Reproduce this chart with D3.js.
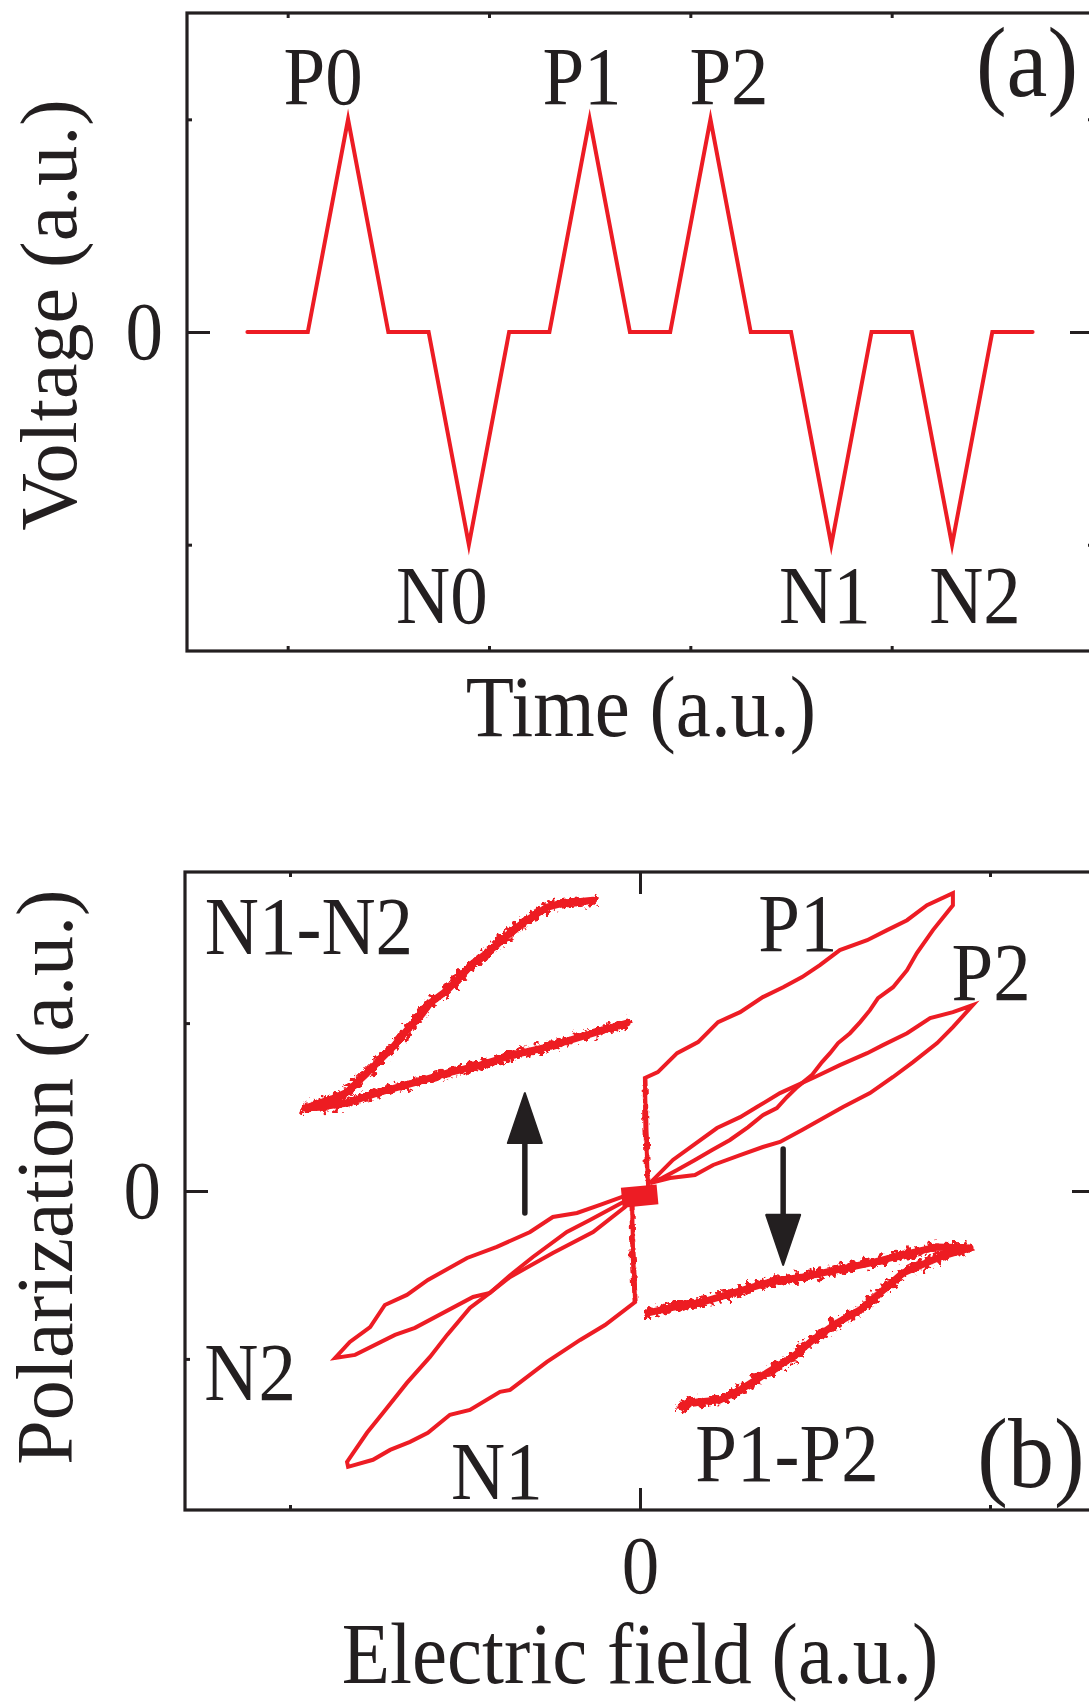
<!DOCTYPE html>
<html>
<head>
<meta charset="utf-8">
<script src="https://cdn.jsdelivr.net/npm/d3@7"></script>
<style>
html, body { margin: 0; padding: 0; background: #fff; overflow: hidden; }
svg { display: block; }
text { font-family: "Liberation Serif", "Times New Roman", Times, serif; fill: #231f20; }
</style>
</head>
<body>
<svg id="fig" width="1089" height="1703"></svg>
<script>
// ---- panel (a): voltage pulse train (time, voltage in a.u.)
var pulseTime    = [0, 1.5, 2.5, 3.5, 4.5, 5.5, 6.5, 7.5, 8.5, 9.5, 10.5, 11.5, 12.5, 13.5, 14.5, 15.5, 16.5, 17.5, 18.5, 19.5];
var pulseVoltage = [0, 0,   1,   0,   0,  -1,   0,   0,   1,   0,   0,    1,    0,    0,   -1,    0,    0,   -1,    0,    0];
var pulseLabels  = ["P0", "N0", "P1", "P2", "N1", "N2"];
var pulseLabelT  = [1.88, 4.83, 8.31, 11.96, 14.34, 18.07];
var pulseLabelV  = [1.07, -1.37, 1.07, 1.07, -1.37, -1.37];

// ---- panel (b): P-E loops (field, polarization in a.u.)
var loopP1 = [[0.023,0.03],[0.017,0.363],[0.014,0.673],[0.051,0.708],[0.106,0.821],[0.166,0.887],[0.223,1.006],
  [0.286,1.065],[0.351,1.155],[0.409,1.214],[0.463,1.274],[0.514,1.345],[0.571,1.435],[0.649,1.494],[0.706,1.554],
  [0.763,1.613],[0.82,1.702],[0.894,1.774],[0.894,1.702],[0.837,1.554],[0.791,1.417],[0.763,1.315],[0.723,1.214],
  [0.68,1.149],[0.657,1.077],[0.629,1.006],[0.6,0.94],[0.566,0.881],[0.543,0.821],[0.52,0.768],[0.491,0.69],
  [0.449,0.619],[0.42,0.56],[0.391,0.494],[0.351,0.452],[0.309,0.381],[0.257,0.304],[0.206,0.244],[0.157,0.185],
  [0.106,0.125],[0.063,0.077],[0.029,0.048]];
var loopP2 = [[0.029,0.048],[0.094,0.185],[0.22,0.375],[0.286,0.44],[0.334,0.5],[0.4,0.583],[0.5,0.679],[0.571,0.75],
  [0.649,0.821],[0.694,0.869],[0.763,0.94],[0.829,1.03],[0.894,1.065],[0.951,1.107],[0.894,0.976],[0.849,0.881],
  [0.78,0.768],[0.723,0.679],[0.657,0.583],[0.58,0.5],[0.463,0.363],[0.4,0.292],[0.351,0.262],[0.286,0.214],
  [0.209,0.155],[0.157,0.095],[0.086,0.077],[0.029,0.048]];
var loopN1 = [[-0.023,-0.024],[-0.02,-0.351],[-0.014,-0.661],[-0.1,-0.798],[-0.171,-0.887],[-0.266,-1.018],[-0.371,-1.185],
  [-0.4,-1.196],[-0.486,-1.304],[-0.543,-1.333],[-0.606,-1.44],[-0.657,-1.494],[-0.714,-1.542],[-0.763,-1.601],
  [-0.834,-1.643],[-0.837,-1.613],[-0.78,-1.44],[-0.734,-1.321],[-0.666,-1.143],[-0.6,-0.988],[-0.551,-0.857],
  [-0.486,-0.696],[-0.429,-0.607],[-0.363,-0.488],[-0.306,-0.393],[-0.209,-0.244],[-0.143,-0.173],[-0.037,-0.054]];
var loopN2 = [[-0.037,-0.024],[-0.114,-0.083],[-0.18,-0.131],[-0.249,-0.155],[-0.314,-0.244],[-0.409,-0.333],[-0.494,-0.399],
  [-0.606,-0.53],[-0.666,-0.619],[-0.729,-0.679],[-0.771,-0.81],[-0.829,-0.899],[-0.871,-0.994],[-0.814,-0.976],
  [-0.7,-0.857],[-0.643,-0.815],[-0.477,-0.631],[-0.429,-0.607],[-0.371,-0.512],[-0.249,-0.369],[-0.134,-0.244],
  [-0.043,-0.095],[-0.014,-0.024]];
// switching jumps near E = 0 (noisy traces)
var jumpP1 = [[0.023,0.03],[0.02,0.2],[0.017,0.363],[0.016,0.52],[0.014,0.673]];
var jumpN1 = [[-0.023,-0.024],[-0.022,-0.2],[-0.02,-0.351],[-0.017,-0.5],[-0.014,-0.661]];
var diffN1N2 = [[-0.037,1.0],[-0.077,0.976],[-0.171,0.917],[-0.266,0.857],[-0.363,0.81],[-0.457,0.75],[-0.551,0.702],
  [-0.649,0.643],[-0.743,0.589],[-0.837,0.524],[-0.914,0.5],[-0.957,0.494],[-0.886,0.542],[-0.837,0.589],[-0.78,0.702],
  [-0.743,0.78],[-0.706,0.857],[-0.666,0.958],[-0.629,1.036],[-0.6,1.119],[-0.551,1.196],[-0.514,1.274],[-0.477,1.357],
  [-0.437,1.417],[-0.4,1.482],[-0.363,1.554],[-0.323,1.613],[-0.266,1.69],[-0.22,1.714],[-0.134,1.732]];
var diffP1P2 = [[0.023,-0.726],[0.086,-0.696],[0.18,-0.661],[0.277,-0.601],[0.371,-0.542],[0.466,-0.512],[0.563,-0.47],
  [0.657,-0.429],[0.751,-0.381],[0.849,-0.333],[0.943,-0.339],[0.857,-0.393],[0.751,-0.488],[0.686,-0.607],[0.629,-0.708],
  [0.563,-0.786],[0.494,-0.887],[0.437,-0.988],[0.363,-1.083],[0.286,-1.185],[0.229,-1.244],[0.134,-1.262],[0.12,-1.286]];
var originCluster = [[-0.052,-0.04],[0.05,-0.02]];
var arrowField = [-0.329, 0.409];
var arrowFrom  = [-0.131, 0.25];
var arrowTo    = [0.583, -0.44];
var loopLabels = ["N1-N2", "P1", "P2", "N2", "N1", "P1-P2"];
var loopLabelE = [-0.946, 0.451, 1.003, -1.114, -0.409, 0.42];
var loopLabelP = [1.411, 1.429, 1.137, -1.244, -1.833, -1.726];

var red = "#ed1c24", ink = "#231f20", SY = 1.09;
var W = 1089, H = 1703;
var svg = d3.select("#fig");

function roughFilter(id, freq, octaves, amount) {
  var f = svg.append("defs").append("filter").attr("id", id).attr("filterUnits", "userSpaceOnUse")
    .attr("x", 0).attr("y", 0).attr("width", W).attr("height", H);
  f.append("feTurbulence").attr("type", "fractalNoise").attr("baseFrequency", freq)
    .attr("numOctaves", octaves).attr("seed", 5).attr("result", "n");
  f.append("feDisplacementMap").attr("in", "SourceGraphic").attr("in2", "n")
    .attr("scale", amount).attr("xChannelSelector", "R").attr("yChannelSelector", "G");
}
roughFilter("rough", 0.18, 3, 14);
roughFilter("rough2", 0.15, 2, 7);

// horizontal text, slightly taller than the font's normal proportions
function label(x, y, txt, size) {
  return svg.append("text").attr("transform", "translate(" + x + "," + y + ") scale(1," + SY + ")")
    .attr("text-anchor", "middle").attr("font-size", size).text(txt);
}

// ---- scales
var xa = d3.scaleLinear().domain([-1.5, 21]).range([187, 1093]);
var ya = d3.scaleLinear().domain([-1.5, 1.5]).range([651, 13]);
var xb = d3.scaleLinear().domain([-1.3, 1.3]).range([185, 1095]);
var yb = d3.scaleLinear().domain([-1.9, 1.9]).range([1510, 872]);

function frame(x, y) {
  var g = svg.append("g");
  g.append("rect").attr("x", x.range()[0]).attr("y", y.range()[1])
    .attr("width", x.range()[1] - x.range()[0]).attr("height", y.range()[0] - y.range()[1])
    .attr("fill", "none").attr("stroke", ink).attr("stroke-width", 3.2);

  return function (axis, tx, ty) {
    var a = g.append("g").attr("transform", "translate(" + tx + "," + ty + ")").call(axis);
    a.select(".domain").remove();
    a.selectAll("line").attr("stroke", ink).attr("stroke-width", 3);
    a.selectAll("text").attr("font-size", 75).attr("font-family", "Liberation Serif, Times New Roman, serif")
      .attr("fill", ink).attr("transform", "scale(1," + SY + ")");
    return a;
  };
}

// ---- panel (a)
var putA = frame(xa, ya);
putA(d3.axisBottom(xa).tickValues([1, 6, 11, 16]).tickSize(-5).tickFormat(""), 0, ya.range()[0]);
putA(d3.axisTop(xa).tickValues([1, 6, 11, 16]).tickSize(-5).tickFormat(""), 0, ya.range()[1]);
putA(d3.axisLeft(ya).tickValues([-1, 1]).tickSize(-5).tickFormat(""), xa.range()[0], 0);
putA(d3.axisRight(ya).tickValues([-1, 1]).tickSize(-5).tickFormat(""), xa.range()[1], 0);
putA(d3.axisRight(ya).tickValues([0]).tickSize(-23).tickFormat(""), xa.range()[1], 0);
putA(d3.axisLeft(ya).tickValues([0]).tickSize(-23).tickPadding(24).tickFormat(d3.format("d")), xa.range()[0], 0);

var pulse = pulseTime.map(function (t, i) { return [t, pulseVoltage[i]]; });
svg.append("path").datum(pulse)
  .attr("d", d3.line().x(function (d) { return xa(d[0]); }).y(function (d) { return ya(d[1]); }))
  .attr("fill", "none").attr("stroke", red).attr("stroke-width", 4)
  .attr("stroke-linejoin", "miter").attr("stroke-miterlimit", 10).attr("stroke-linecap", "round");

pulseLabels.forEach(function (d, i) { label(xa(pulseLabelT[i]), ya(pulseLabelV[i]), d, 75); });
label(xa(19.36), ya(1.11), "(a)", 92);
label(641, 736, "Time (a.u.)", 79);
svg.append("text").attr("transform", "translate(76,315) rotate(-90)").attr("text-anchor", "middle")
  .attr("font-size", 80).text("Voltage (a.u.)");

// ---- panel (b)
var putB = frame(xb, yb);
putB(d3.axisBottom(xb).tickValues([-1, 1]).tickSize(-5).tickFormat(""), 0, yb.range()[0]);
putB(d3.axisTop(xb).tickValues([-1, 1]).tickSize(-5).tickFormat(""), 0, yb.range()[1]);
putB(d3.axisTop(xb).tickValues([0]).tickSize(-22).tickFormat(""), 0, yb.range()[1]);
putB(d3.axisBottom(xb).tickValues([0]).tickSize(-22).tickPadding(23).tickFormat(d3.format("d")), 0, yb.range()[0]);
putB(d3.axisLeft(yb).tickValues([-1, 1]).tickSize(-5).tickFormat(""), xb.range()[0], 0);
putB(d3.axisRight(yb).tickValues([-1, 1]).tickSize(-5).tickFormat(""), xb.range()[1], 0);
putB(d3.axisRight(yb).tickValues([0]).tickSize(-23).tickFormat(""), xb.range()[1], 0);
putB(d3.axisLeft(yb).tickValues([0]).tickSize(-23).tickPadding(24).tickFormat(d3.format("d")), xb.range()[0], 0);

var lineB = d3.line().x(function (d) { return xb(d[0]); }).y(function (d) { return yb(d[1]); });

svg.selectAll("path.loop").data([loopP1, loopP2, loopN1, loopN2]).enter().append("path").attr("class", "loop")
  .attr("d", lineB).attr("fill", "none").attr("stroke", red).attr("stroke-width", 4)
  .attr("stroke-linejoin", "miter").attr("stroke-miterlimit", 6);

// noisy traces: solid core plus a displaced, ragged outline
svg.selectAll("path.jump").data([jumpP1, jumpN1]).enter().append("path").attr("class", "jump")
  .attr("d", lineB).attr("fill", "none").attr("stroke", red).attr("stroke-width", 5)
  .attr("filter", "url(#rough2)");

[diffN1N2, diffP1P2].forEach(function (d) {
  svg.append("path").datum(d).attr("d", lineB).attr("fill", "none").attr("stroke", red)
    .attr("stroke-width", 7).attr("stroke-linejoin", "round").attr("stroke-linecap", "round");
  svg.append("path").datum(d).attr("d", lineB).attr("fill", "none").attr("stroke", red)
    .attr("stroke-width", 9).attr("stroke-linejoin", "round").attr("stroke-linecap", "round")
    .attr("filter", "url(#rough)");
});

svg.append("path").datum(originCluster).attr("d", lineB).attr("fill", "none")
  .attr("stroke", red).attr("stroke-width", 20);

// arrows
arrowField.forEach(function (e, i) {
  var x = xb(e), y0 = yb(arrowFrom[i]), y1 = yb(arrowTo[i]);
  var dir = y1 < y0 ? 1 : -1, head = 50, hw = 17;
  svg.append("line").attr("x1", x).attr("x2", x).attr("y1", y0).attr("y2", y1 + dir * head * 0.8)
    .attr("stroke", ink).attr("stroke-width", 5.5).attr("stroke-linecap", "round");
  svg.append("path").attr("d", "M" + x + "," + y1 + "L" + (x - hw) + "," + (y1 + dir * head) +
      "L" + (x + hw) + "," + (y1 + dir * head) + "Z")
    .attr("fill", ink).attr("stroke", ink).attr("stroke-width", 2).attr("stroke-linejoin", "round");
});

loopLabels.forEach(function (d, i) { label(xb(loopLabelE[i]), yb(loopLabelP[i]), d, 75); });
label(xb(1.117), yb(-1.762), "(b)", 92);
label(640, 1683, "Electric field (a.u.)", 79);
svg.append("text").attr("transform", "translate(72,1177) rotate(-90)").attr("text-anchor", "middle")
  .attr("font-size", 80).text("Polarization (a.u.)");
</script>
</body>
</html>
